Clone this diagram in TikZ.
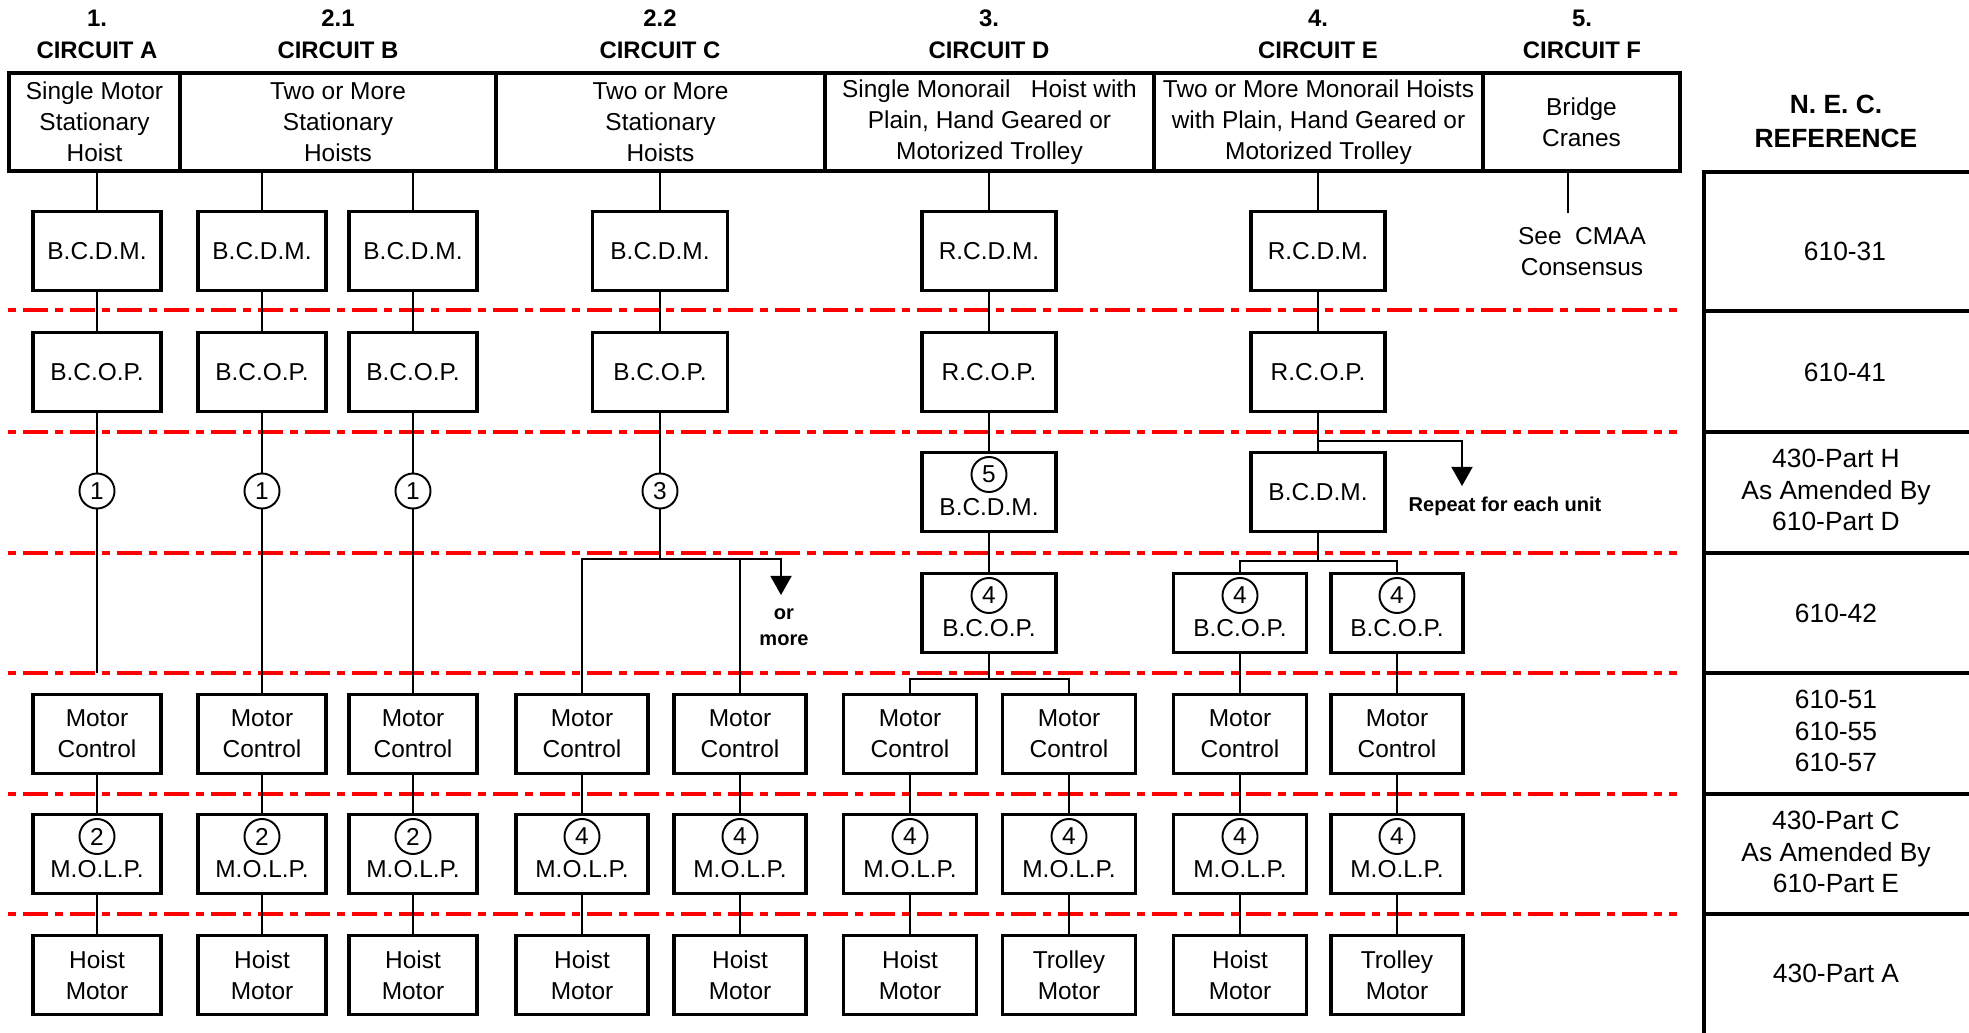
\documentclass[tikz,border=0pt]{standalone}
\usepackage{fontspec}
\setmainfont{Liberation Sans}
\usetikzlibrary{arrows.meta}

\newcommand{\boxfont}{\fontsize{6.95}{8.8}\selectfont}
\newcommand{\circfont}{\fontsize{6.8}{9.1}\selectfont\bfseries}
\newcommand{\reffont}{\fontsize{7.5}{9}\selectfont}
\newcommand{\notefont}{\fontsize{5.7}{7.4}\selectfont\bfseries}

\begin{document}
\begin{tikzpicture}[x=0.01cm, y=-0.01cm,
    blk/.style={draw, line width=0.9pt, minimum height=0.79cm, inner sep=0pt, align=center, font=\boxfont},
    tagged/.style={text height=0.5cm, text depth=0.034cm},
    numc/.style={circle, draw, line width=0.55pt, minimum size=0.35cm, inner sep=0pt, fill=white, font=\boxfont},
    headcell/.style={draw, line width=0.9pt, minimum height=0.98cm, inner sep=0pt, align=center, font=\boxfont},
    circtitle/.style={align=center, font=\circfont},
    reftext/.style={align=center, font=\reffont},
    notetext/.style={align=center, font=\notefont},
    redline/.style={red, line width=1.35pt, dash pattern=on 0.08cm off 0.07cm on 0.25cm off 0.07cm},
    wire/.style={line width=0.75pt},
    thinwire/.style={line width=0.45pt},
    downarrow/.style={-{Triangle[width=0.21cm, length=0.19cm]}}]

    \useasboundingbox (0,0) rectangle (1969,1033);

    % Level lines
    \foreach \y in {310,432,553,673,794,914}
        \draw[redline] (8,\y) -- (1677,\y);

    % Circuit titles
    \node[circtitle] (tA) at (97,34) {1.\\CIRCUIT A};
    \node[circtitle] (tB) at (338,34) {2.1\\CIRCUIT B};
    \node[circtitle] (tC) at (660,34) {2.2\\CIRCUIT C};
    \node[circtitle] (tD) at (989,34) {3.\\CIRCUIT D};
    \node[circtitle] (tE) at (1318,34) {4.\\CIRCUIT E};
    \node[circtitle] (tF) at (1582,34) {5.\\CIRCUIT F};

    % Header cells
    \node[headcell, minimum width=1.71cm] (hA) at (94.5,122) {Single Motor\\Stationary\\Hoist};
    \node[headcell, minimum width=3.16cm] (hB) at (338,122) {Two or More\\Stationary\\Hoists};
    \node[headcell, minimum width=3.29cm] (hC) at (660.5,122) {Two or More\\Stationary\\Hoists};
    \node[headcell, minimum width=3.29cm] (hD) at (989.5,122) {Single Monorail\ \ \ Hoist with\\Plain, Hand Geared or\\Motorized Trolley};
    \node[headcell, minimum width=3.29cm] (hE) at (1318.5,122) {Two or More Monorail Hoists\\with Plain, Hand Geared or\\Motorized Trolley};
    \node[headcell, minimum width=1.97cm] (hF) at (1581.5,122) {Bridge\\Cranes};

    % Disconnecting means and overcurrent protection
    \foreach \n/\x/\w/\hd/\fst/\snd in {a/97/1.28/hA/B.C.D.M./B.C.O.P.,
            b/262/1.28/hB/B.C.D.M./B.C.O.P., bb/413/1.28/hB/B.C.D.M./B.C.O.P.,
            c/660/1.35/hC/B.C.D.M./B.C.O.P., d/989/1.34/hD/R.C.D.M./R.C.O.P.,
            e/1318/1.34/hE/R.C.D.M./R.C.O.P.}{
        \node[blk, minimum width=\w cm] (\n1) at (\x,251) {\fst};
        \node[blk, minimum width=\w cm] (\n2) at (\x,372) {\snd};
        \draw[wire] (\n1.north) -- (\n1.north |- \hd.south);
        \draw[wire] (\n1) -- (\n2);
    }

    % Third and fourth levels
    \node[numc] (ca) at (97,491) {1};
    \node[numc] (cb) at (262,491) {1};
    \node[numc] (cbb) at (413,491) {1};
    \node[numc] (cc) at (660,491) {3};
    \node[blk, tagged, minimum width=1.34cm] (d3) at (989,492) {B.C.D.M.};
    \node[numc] (d3n) at ([yshift=0.175cm]d3.center) {5};
    \node[blk, minimum width=1.34cm] (e3) at (1318,492) {B.C.D.M.};
    \node[blk, tagged, minimum width=1.34cm] (d4) at (989,613) {B.C.O.P.};
    \node[numc] (d4n) at ([yshift=0.175cm]d4.center) {4};
    \node[blk, tagged, minimum width=1.33cm] (e4) at (1240,613) {B.C.O.P.};
    \node[numc] (e4n) at ([yshift=0.175cm]e4.center) {4};
    \node[blk, tagged, minimum width=1.32cm] (ee4) at (1397,613) {B.C.O.P.};
    \node[numc] (ee4n) at ([yshift=0.175cm]ee4.center) {4};

    % Motor control, overload protection, motors
    \foreach \n/\x/\w/\k/\m in {a/97/1.28/2/Hoist, b/262/1.28/2/Hoist, bb/413/1.28/2/Hoist,
            c/582/1.32/4/Hoist, cc/740/1.32/4/Hoist, d/910/1.33/4/Hoist,
            dd/1069/1.33/4/Trolley, e/1240/1.33/4/Hoist, ee/1397/1.32/4/Trolley}{
        \node[blk, minimum width=\w cm] (\n5) at (\x,734) {Motor\\Control};
        \node[blk, tagged, minimum width=\w cm] (\n6) at (\x,854) {M.O.L.P.};
        \node[numc] (\n6n) at ([yshift=0.175cm]\n6.center) {\k};
        \node[blk, minimum width=\w cm] (\n7) at (\x,975) {\m\\Motor};
        \draw[wire] (\n5) -- (\n6);
        \draw[wire] (\n6) -- (\n7);
    }

    % Circuit A
    \coordinate (aEnd) at (97,673);
    \draw[thinwire] (a2) -- (ca) -- (aEnd);

    % Circuit B
    \draw[thinwire] (b2) -- (cb) -- (b5);
    \draw[thinwire] (bb2) -- (cbb) -- (bb5);

    % Circuit C
    \coordinate (cJoin) at (660,559);
    \coordinate (cMore) at (781,559);
    \coordinate (cTip) at (781,595);
    \draw[thinwire] (c2) -- (cc) -- (cJoin);
    \draw[thinwire, downarrow] (c5.north) |- (cMore) -- (cTip);
    \draw[thinwire] (cc5.north) -- (cc5.north |- cJoin);
    \node[notetext] (cNote) at (784,627) {or\\more};

    % Circuit D
    \coordinate (dJoin) at (989,679);
    \draw[wire] (d2) -- (d3);
    \draw[wire] (d3) -- (d4);
    \draw[thinwire] (d4) -- (dJoin);
    \draw[thinwire] (d5.north) |- (dJoin) -| (dd5.north);

    % Circuit E
    \coordinate (eRep) at (1318,441);
    \coordinate (eTip) at (1462,486);
    \coordinate (eJoin) at (1318,561);
    \draw[wire] (e2) -- (e3);
    \draw[thinwire, downarrow] (eRep) -| (eTip);
    \node[notetext] (eNote) at (1505,506) {Repeat for each unit};
    \draw[thinwire] (e3) -- (eJoin);
    \draw[thinwire] (e4.north) |- (eJoin) -| (ee4.north);
    \draw[wire] (e4) -- (e5);
    \draw[wire] (ee4) -- (ee5);

    % Circuit F
    \coordinate (fTop) at (1568,171);
    \coordinate (fBot) at (1568,213);
    \draw[thinwire] (fTop) -- (fBot);
    \node[align=center, font=\boxfont] (fNote) at (1582,251.5) {See\ \ CMAA\\Consensus};

    % N.E.C. reference
    \node[align=center, font=\fontsize{7.5}{9.7}\selectfont\bfseries] (nec) at (1836,121) {N. E. C.\\REFERENCE};
    \draw[line width=0.9pt] (1969,172) -- (1704,172) -- (1704,1033);
    \foreach \y in {311,432,553,673,794,914}
        \draw[line width=0.9pt] (1704,\y) -- (1969,\y);
    \node[reftext] (r1) at (1845,251) {610-31};
    \node[reftext] (r2) at (1845,372) {610-41};
    \node[reftext] (r3) at (1836,490) {430-Part H\\As Amended By\\610-Part D};
    \node[reftext] (r4) at (1836,613) {610-42};
    \node[reftext] (r5) at (1836,731) {610-51\\610-55\\610-57};
    \node[reftext] (r6) at (1836,852) {430-Part C\\As Amended By\\610-Part E};
    \node[reftext] (r7) at (1836,973) {430-Part A};
\end{tikzpicture}
\end{document}
